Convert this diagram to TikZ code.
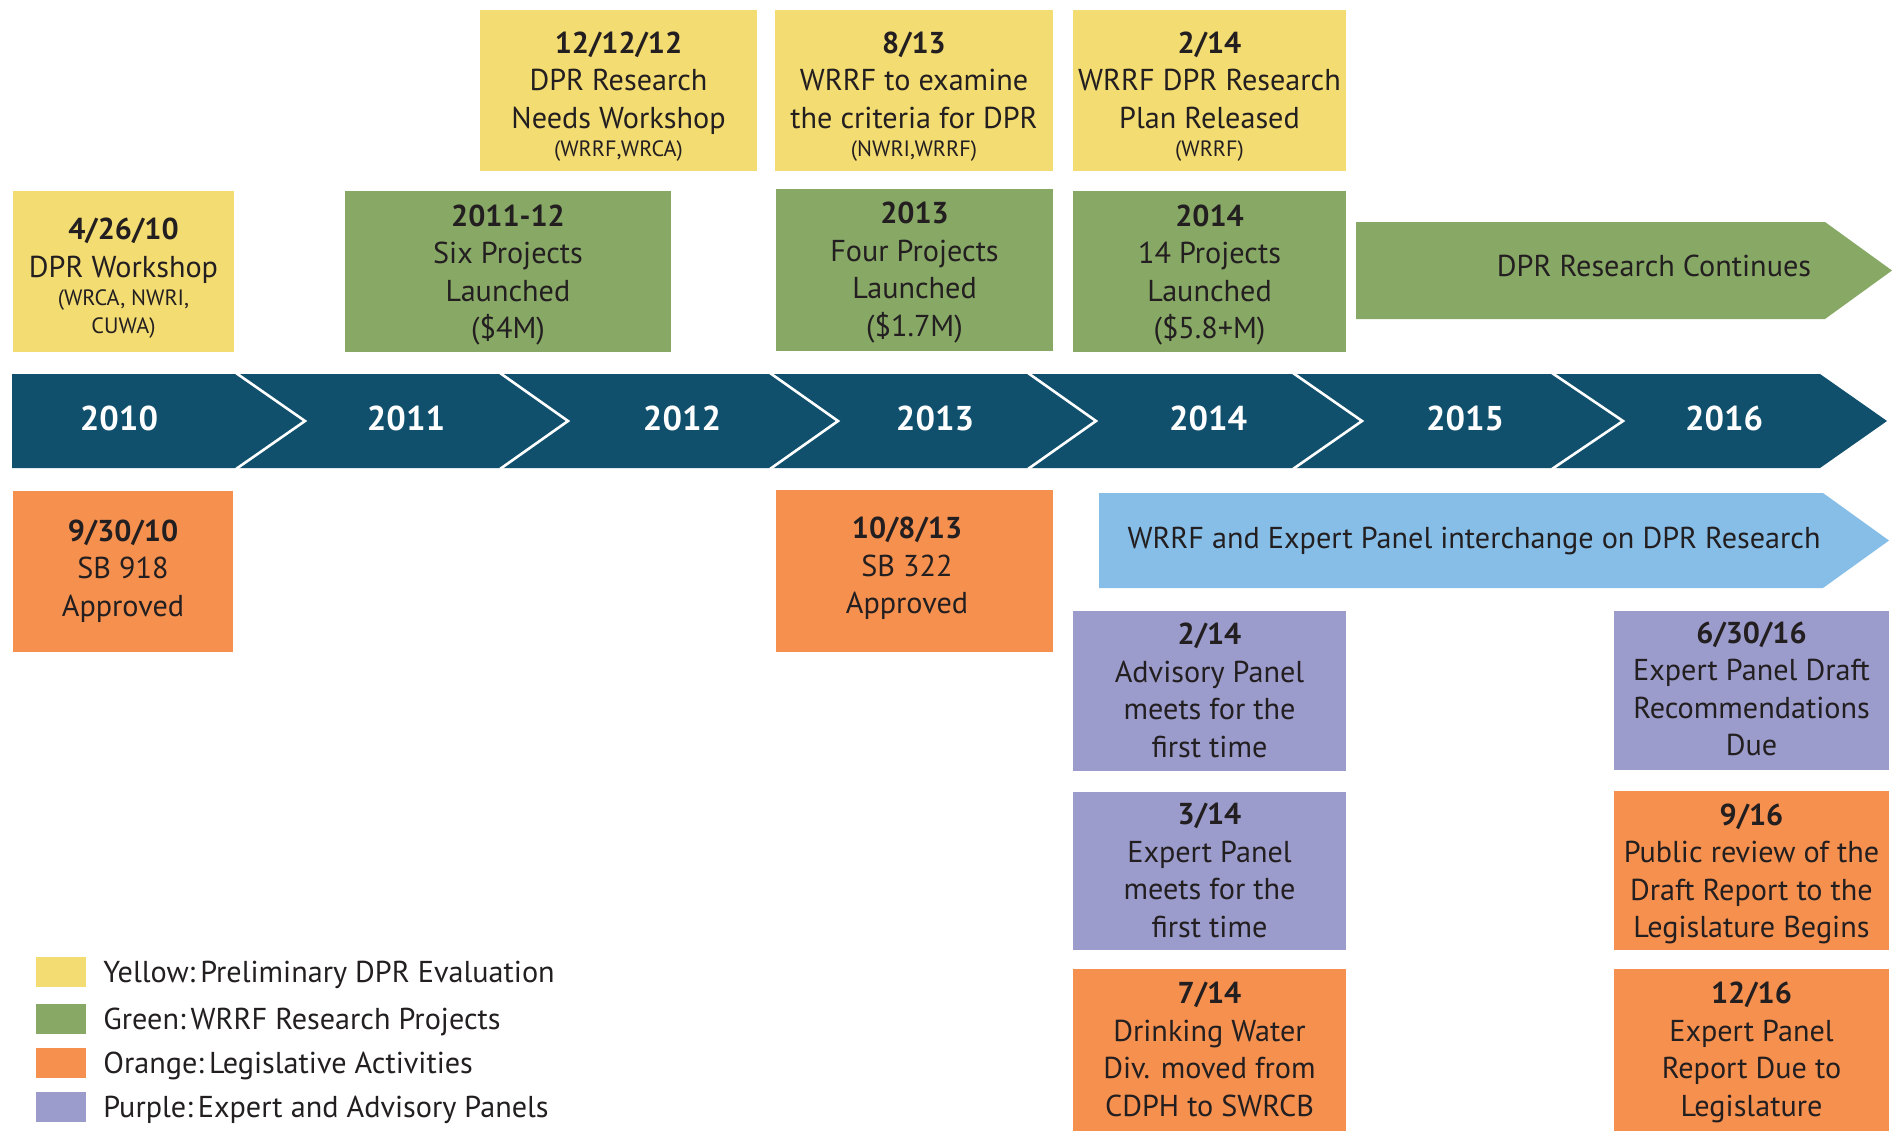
\documentclass[tikz,border=0pt]{standalone}
\usepackage{fontspec}
\setmainfont{PT Sans}
\definecolor{cyel}{HTML}{F3DC72}
\definecolor{cgrn}{HTML}{88A866}
\definecolor{corg}{HTML}{F5904F}
\definecolor{cpur}{HTML}{9B9BCC}
\definecolor{cblu}{HTML}{86BEE8}
\definecolor{cnavy}{HTML}{10506D}
\definecolor{ctxt}{HTML}{231F20}
\newcommand\bodyf{\fontsize{15.1}{18.75}\selectfont}
\newcommand\smallf{\fontsize{11.1}{18.75}\selectfont}
\newcommand\yearf{\fontsize{17.2}{20}\selectfont\bfseries}
% #1 name, #2 colour, #3 cx, #4 cy, #5 width (pt), #6 height (pt), #7 text offset (px, down), #8 text
\newcommand\evbox[8]{%
  \node[box, fill=#2, minimum width=#5, minimum height=#6] (#1) at (#3,#4) {};
  \node[txt] (#1t) at ([yshift=-#7*0.5pt]#1.center) {#8};}
\begin{document}
\begin{tikzpicture}[x=0.5pt,y=-0.5pt,
  box/.style={rectangle, inner sep=0pt, draw=none},
  txt/.style={inner sep=0pt, align=center, text=ctxt, font=\bodyf,
    execute at begin node=\strut, execute at end node=\strut},
  yr/.style={inner sep=0pt, anchor=base, text=white, font=\yearf},
  leg/.style={inner sep=0pt, anchor=base west, text=ctxt, font=\bodyf},
  sq/.style={rectangle, inner sep=0pt, minimum width=25pt, minimum height=15pt},
  chev/.style={draw=white, line width=1.3pt}
]
\useasboundingbox (0,0) rectangle (1892,1131);
\fill[white] (0,0) rectangle (1892,1131);

% ---- top row: yellow
\evbox{y1}{cyel}{123.5}{271.5}{110.5pt}{80.5pt}{10}
  {\textbf{4/26/10}\\DPR Workshop\\[-4.75pt]{\smallf (WRCA, NWRI,}\\[-4.75pt]{\smallf CUWA)}}
\evbox{y2}{cyel}{618.5}{90.5}{138.5pt}{80.5pt}{9}
  {\textbf{12/12/12}\\DPR Research\\Needs Workshop\\[-4.75pt]{\smallf (WRRF,WRCA)}}
\evbox{y3}{cyel}{914}{90.5}{139pt}{80.5pt}{9}
  {\textbf{8/13}\\WRRF to examine\\the criteria for DPR\\[-4.75pt]{\smallf (NWRI,WRRF)}}
\evbox{y4}{cyel}{1209.5}{90.5}{136.5pt}{80.5pt}{9}
  {\textbf{2/14}\\WRRF DPR Research\\Plan Released\\[-4.75pt]{\smallf (WRRF)}}

% ---- green
\evbox{g1}{cgrn}{508}{271.5}{163pt}{80.5pt}{6}
  {\textbf{2011-12}\\Six Projects\\Launched\\(\$4M)}
\evbox{g2}{cgrn}{914.5}{270}{138.5pt}{81pt}{5}
  {\textbf{2013}\\Four Projects\\Launched\\(\$1.7M)}
\evbox{g3}{cgrn}{1209.5}{271.5}{136.5pt}{80.5pt}{6}
  {\textbf{2014}\\14 Projects\\Launched\\(\$5.8+M)}
\fill[cgrn] (1356,222) -- (1825,222) -- (1892,270.5) -- (1825,319) -- (1356,319) -- cycle;
\node[inner sep=0pt, anchor=base, text=ctxt, font=\bodyf] (cont) at (1654,276.5) {DPR Research Continues};

% ---- timeline bar
\fill[cnavy] (12,374) -- (1820,374) -- (1887,421) -- (1820,468) -- (12,468) -- cycle;
\foreach \t/\p in {236/305, 500/568, 770/838, 1028/1096, 1293/1362, 1552/1623}
  \draw[chev] (\t,373) -- (\p,421) -- (\t,469);
\node[yr] (yr10) at (119,430) {2010};
\node[yr] (yr11) at (406,430) {2011};
\node[yr] (yr12) at (682,430) {2012};
\node[yr] (yr13) at (935,430) {2013};
\node[yr] (yr14) at (1208,430) {2014};
\node[yr] (yr15) at (1465,430) {2015};
\node[yr] (yr16) at (1724,430) {2016};

% ---- light blue arrow
\fill[cblu] (1099,493) -- (1823,493) -- (1889,540.5) -- (1823,588) -- (1099,588) -- cycle;
\node[inner sep=0pt, anchor=base, text=ctxt, font=\bodyf] (xchg) at (1474,548)
  {WRRF and Expert Panel interchange on DPR Research};

% ---- orange
\evbox{o1}{corg}{123}{571.5}{110pt}{80.5pt}{2}
  {\textbf{9/30/10}\\SB 918\\Approved}
\node[box, fill=corg, minimum width=138.5pt, minimum height=81pt] (o2) at (914.5,571) {};
\node[txt] (o2t) at (907,571) {\textbf{10/8/13}\\SB 322\\Approved};

% ---- purple / orange column 2014
\evbox{p1}{cpur}{1209.5}{691}{136.5pt}{80pt}{5}
  {\textbf{2/14}\\Advisory Panel\\meets for the\\first time}
\evbox{p2}{cpur}{1209.5}{871}{136.5pt}{79pt}{5}
  {\textbf{3/14}\\Expert Panel\\meets for the\\first time}
\evbox{o3}{corg}{1209.5}{1050}{136.5pt}{81pt}{5}
  {\textbf{7/14}\\Drinking Water\\Div. moved from\\CDPH to SWRCB}

% ---- column 2016
\evbox{p3}{cpur}{1751.5}{690.5}{137.5pt}{79.5pt}{4}
  {\textbf{6/30/16}\\Expert Panel Draft\\Recommendations\\Due}
\evbox{o4}{corg}{1751.5}{870.5}{137.5pt}{79.5pt}{6}
  {\textbf{9/16}\\Public review of the\\Draft Report to the\\Legislature Begins}
\evbox{o5}{corg}{1751.5}{1050}{137.5pt}{81pt}{5}
  {\textbf{12/16}\\Expert Panel\\Report Due to\\Legislature}

% ---- legend
\node[sq, fill=cyel] (ly) at (61,972) {};
\node[sq, fill=cgrn] (lg) at (61,1019) {};
\node[sq, fill=corg] (lo) at (61,1063) {};
\node[sq, fill=cpur] (lp) at (61,1107) {};
\node[leg] (lyt) at (103,982) {Yellow:\,Preliminary DPR Evaluation};
\node[leg] (lgt) at (103,1029) {Green:\,WRRF Research Projects};
\node[leg] (lot) at (103,1073) {Orange:\,Legislative Activities};
\node[leg] (lpt) at (103,1117) {Purple:\,Expert and Advisory Panels};
\end{tikzpicture}
\end{document}
